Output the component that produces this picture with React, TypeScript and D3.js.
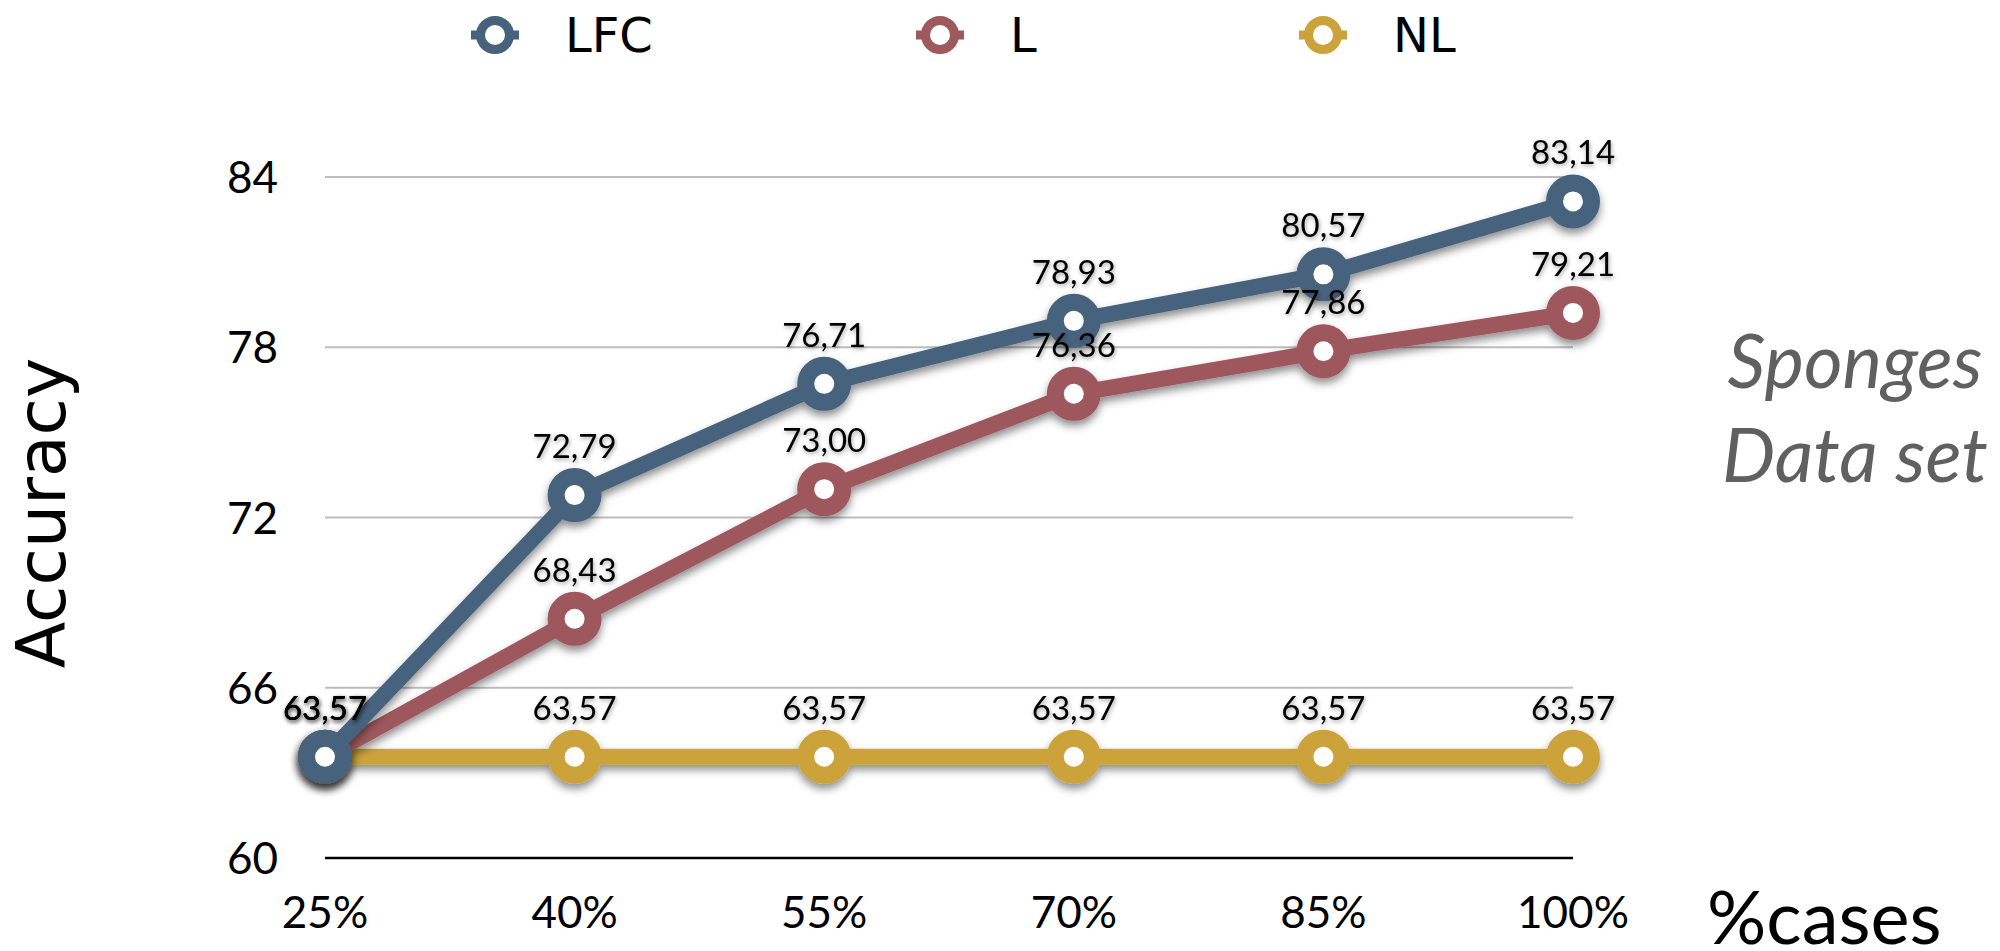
import React, { useEffect } from "react";
import * as d3 from "d3";

const categories = ["25%", "40%", "55%", "70%", "85%", "100%"];
const lfcValues = [63.57, 72.79, 76.71, 78.93, 80.57, 83.14];
const lValues = [63.57, 68.43, 73.0, 76.36, 77.86, 79.21];
const nlValues = [63.57, 63.57, 63.57, 63.57, 63.57, 63.57];
const yTicks = [60, 66, 72, 78, 84];
const seriesNames = ["LFC", "L", "NL"];

const W = 2000;
const H = 951;
const colors: Record<string, string> = { LFC: "#46627d", L: "#9e595d", NL: "#cca23b" };
const legendX: Record<string, number> = { LFC: 495, L: 940, NL: 1323 };

const fmt = (v: number) => v.toFixed(2).replace(".", ",");

export default function App() {
  useEffect(() => {
    document.body.style.margin = "0";
  }, []);

  const x = d3.scalePoint<string>().domain(categories).range([325, 1573]);
  const y = d3.scaleLinear().domain([60, 84]).range([858, 177]);

  const series = [
    { name: "NL", values: nlValues },
    { name: "L", values: lValues },
    { name: "LFC", values: lfcValues },
  ];

  const line = d3
    .line<number>()
    .x((_, i) => x(categories[i]) as number)
    .y((d) => y(d));

  const gillish = "Lato, 'Open Sans', sans-serif";

  return (
    <svg width={W} height={H} style={{ display: "block", position: "absolute", left: 0, top: 0 }} xmlns="http://www.w3.org/2000/svg">
      <defs>
        <filter id="lineShadow" filterUnits="userSpaceOnUse" x={0} y={0} width={W} height={H}>
          <feDropShadow dx={0} dy={5} stdDeviation={4} floodColor="#000" floodOpacity={0.45} />
        </filter>
        <filter id="textShadow" filterUnits="userSpaceOnUse" x={0} y={0} width={W} height={H}>
          <feDropShadow dx={1} dy={2} stdDeviation={2} floodColor="#000" floodOpacity={0.35} />
        </filter>
      </defs>
      <rect x={0} y={0} width={W} height={H} fill="#fff" />

      {/* grid lines */}
      {yTicks.map((t) => (
        <line
          key={"g" + t}
          x1={325}
          x2={1573}
          y1={y(t)}
          y2={y(t)}
          stroke={t === 60 ? "#000" : "#bdbdbd"}
          strokeWidth={t === 60 ? 2.5 : 2}
        />
      ))}

      {/* y tick labels */}
      {yTicks.map((t) => (
        <text key={"yt" + t} x={278} y={y(t) + 16} textAnchor="end" fontFamily={gillish} fontSize={44} fill="#000">
          {t}
        </text>
      ))}

      {/* x tick labels */}
      {categories.map((c) => (
        <text key={"xt" + c} x={x(c) as number} y={928} textAnchor="middle" fontFamily={gillish} fontSize={44} fill="#000">
          {c}
        </text>
      ))}

      {/* series */}
      {series.map((s) => (
        <g key={s.name} filter="url(#lineShadow)">
          <path d={line(s.values) || ""} fill="none" stroke={colors[s.name]} strokeWidth={16} strokeLinejoin="round" />
          {s.values.map((v, i) => (
            <circle key={i} cx={x(categories[i]) as number} cy={y(v)} r={18.5} fill="#fff" stroke={colors[s.name]} strokeWidth={17} />
          ))}
        </g>
      ))}

      {/* data labels */}
      {series.map((s) => (
        <g key={"lab" + s.name} filter="url(#textShadow)">
          {s.values.map((v, i) => (
            <text key={i} x={x(categories[i]) as number} y={y(v) - 37} textAnchor="middle" fontFamily={gillish} fontSize={33} fill="#000">
              {fmt(v)}
            </text>
          ))}
        </g>
      ))}

      {/* legend */}
      {seriesNames.map((n) => (
        <g key={"leg" + n}>
          <line x1={legendX[n] - 24} x2={legendX[n] + 24} y1={35} y2={35} stroke={colors[n]} strokeWidth={9} />
          <circle cx={legendX[n]} cy={35} r={14.5} fill="#fff" stroke={colors[n]} strokeWidth={9} />
          <text x={legendX[n] + 70} y={52} fontFamily="'DejaVu Sans', Verdana, sans-serif" fontSize={48} fill="#000">
            {n}
          </text>
        </g>
      ))}

      {/* axis titles */}
      <text
        transform="translate(65,513) rotate(-90)"
        textAnchor="middle"
        fontFamily="'DejaVu Sans', Verdana, sans-serif"
        fontSize={68}
        fill="#000"
      >
        Accuracy
      </text>
      <text x={1707} y={944} fontFamily={gillish} fontSize={74} fill="#000">
        %cases
      </text>

      {/* side annotation */}
      <text x={1855} y={388} textAnchor="middle" fontFamily={gillish} fontStyle="italic" fontSize={76} fill="#606060" textLength={255} lengthAdjust="spacingAndGlyphs">
        Sponges
      </text>
      <text x={1855} y={482} textAnchor="middle" fontFamily={gillish} fontStyle="italic" fontSize={76} fill="#606060" textLength={266} lengthAdjust="spacingAndGlyphs">
        Data set
      </text>
    </svg>
  );
}
